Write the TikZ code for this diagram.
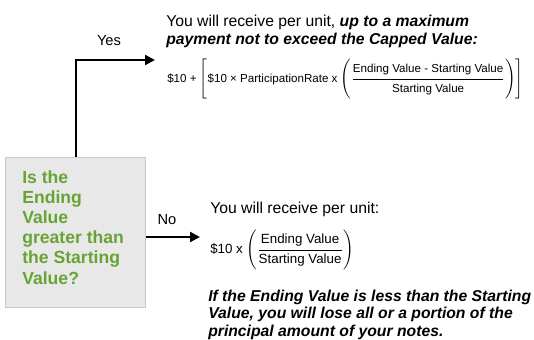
\documentclass[tikz,border=0pt]{standalone}
\usepackage{fontspec}
\setmainfont{Liberation Sans}
\usepackage{tikz}
\usetikzlibrary{arrows.meta}
\definecolor{verdedomanda}{RGB}{104,164,52}
\definecolor{grigioriquadro}{RGB}{232,232,232}
\definecolor{bordoriquadro}{RGB}{200,200,200}
\newcommand{\numsu}{\rule[-3.5pt]{0pt}{3.5pt}}
\newcommand{\densu}{\rule{0pt}{8.5pt}}
\tikzset{
  % Riquadro grigio con la domanda
  riquadro/.style={
    draw=bordoriquadro, fill=grigioriquadro, line width=0.9pt,
    inner sep=0pt, minimum width=105pt, minimum height=112.5pt
  },
  testo domanda/.style={
    align=left, inner sep=0pt, text=verdedomanda,
    font=\fontsize{13.2}{15.15}\selectfont\bfseries
  },
  % Frecce nere verso i due esiti
  freccia/.style={line width=1.6pt, -{Triangle[length=7.5pt,width=7.5pt]}},
  etichetta/.style={inner sep=0pt, font=\fontsize{11}{13}\selectfont},
  % Testi e formule a destra
  testo/.style={align=left, inner sep=0pt, font=\fontsize{11.8}{13.5}\selectfont},
  nota/.style={align=left, inner sep=0pt, font=\fontsize{11.8}{12.9}\selectfont\bfseries\itshape},
  formula/.style={inner sep=0pt, font=\fontsize{#1}{#1}\selectfont}
}

\begin{document}
\begin{tikzpicture}[x=0.75pt, y=-0.75pt]
  \useasboundingbox (0,0) rectangle (534,339);

  % Domanda
  \node[riquadro, anchor=north west] (domanda) at (5,157) {};
  \node[testo domanda, anchor=north west] (testodomanda) at (22,170)
    {Is the\\Ending\\Value\\greater than\\the Starting\\Value?};

  % Ramo Yes
  \coordinate (puntasi) at (155,60);
  \draw[freccia] (domanda.north) |- (puntasi);
  \node[etichetta] (si) at (109,41) {Yes};
  \node[testo, anchor=north west] (testosi) at (166,15)
    {You will receive per unit, \textbf{\textit{up to a maximum}}\\
     \textbf{\textit{payment not to exceed the Capped Value:}}};
  \node[formula=8.7, anchor=west] (formulasi) at (167,79)
    {\$10 + $\displaystyle\Bigg[\mbox{\$10 × ParticipationRate x }
     \Bigg(\frac{\mbox{\numsu Ending Value - Starting Value}}{\mbox{\densu Starting Value}}\Bigg)\Bigg]$};

  % Ramo No
  \coordinate (puntano) at (200,237);
  \draw[freccia] (domanda.east |- puntano) -- (puntano);
  \node[etichetta] (no) at (167,220) {No};
  \node[testo, anchor=north west] (testono) at (210,202) {You will receive per unit:};
  \node[formula=10, anchor=west] (formulano) at (210,250)
    {\$10 x $\displaystyle\Bigg(\frac{\mbox{\numsu Ending Value}}{\mbox{\densu Starting Value}}\Bigg)$};
  \node[nota, anchor=north west] (notano) at (208,290)
    {If the Ending Value is less than the Starting\\
     Value, you will lose all or a portion of the\\
     principal amount of your notes.};
\end{tikzpicture}
\end{document}
